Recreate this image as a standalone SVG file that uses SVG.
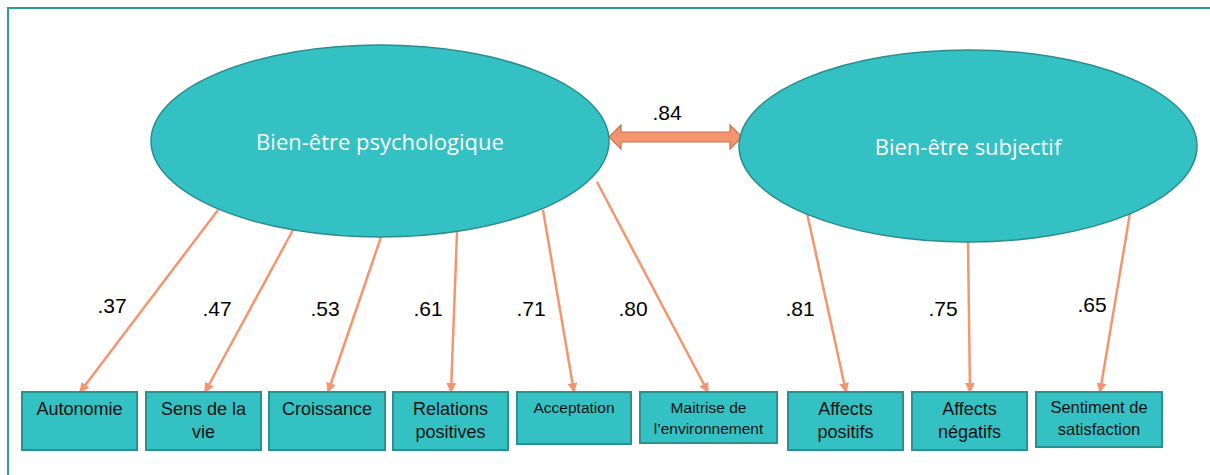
<svg xmlns="http://www.w3.org/2000/svg" width="1210" height="475" viewBox="0 0 1210 475">
<defs>
<marker id="ah" viewBox="0 0 10 10" refX="9" refY="5" markerWidth="4" markerHeight="4" orient="auto" markerUnits="strokeWidth">
<path d="M0,0 L10,5 L0,10 z" fill="#F4956F"/>
</marker>
<style>
.ell{fill:#33C1C4;stroke:#2A8C8E;stroke-width:1.5}
.box{fill:#33C1C4;stroke:#2A9090;stroke-width:2}
.lt{font-family:"Open Sans","Liberation Sans",sans-serif;font-size:22px;fill:#ffffff;text-anchor:middle}
.bt{font-family:"Liberation Sans",sans-serif;font-size:18px;fill:#111111;text-anchor:middle}
.st{font-family:"Liberation Sans",sans-serif;font-size:15.5px;fill:#111111;text-anchor:middle}
.sb{font-family:"Liberation Sans",sans-serif;font-size:16.5px;fill:#111111;text-anchor:middle}
.num{font-family:"Liberation Sans",sans-serif;font-size:21px;fill:#000000;text-anchor:middle}
.ln{stroke:#F4956F;stroke-width:2.5;fill:none;marker-end:url(#ah)}
</style>
</defs>
<rect x="0" y="0" width="1210" height="475" fill="#ffffff"/>
<rect x="8" y="8" width="1230" height="500" fill="none" stroke="#2E9B9B" stroke-width="2"/>

<g id="connectors">
<line class="ln" x1="218" y1="210" x2="80" y2="392"/>
<line class="ln" x1="293" y1="230" x2="205" y2="392"/>
<line class="ln" x1="381" y1="237" x2="328" y2="392"/>
<line class="ln" x1="457" y1="232" x2="451" y2="392"/>
<line class="ln" x1="543" y1="210" x2="574" y2="392"/>
<line class="ln" x1="597" y1="182" x2="708" y2="392"/>
<line class="ln" x1="807" y1="213" x2="846" y2="392"/>
<line class="ln" x1="968" y1="242" x2="970" y2="392"/>
<line class="ln" x1="1130" y1="213" x2="1100" y2="392"/>
<path id="corr" d="M609,137 L621,125 L621,132 L730,132 L730,125 L742,137 L730,149 L730,142 L621,142 L621,149 Z" fill="#F4956F" stroke="#C8734F" stroke-width="1.2"/>
<text class="num" x="667" y="120">.84</text>
<text class="num" x="112" y="313">.37</text>
<text class="num" x="217" y="316">.47</text>
<text class="num" x="325" y="316">.53</text>
<text class="num" x="428" y="316">.61</text>
<text class="num" x="531" y="316">.71</text>
<text class="num" x="633" y="316">.80</text>
<text class="num" x="800" y="316">.81</text>
<text class="num" x="943" y="316">.75</text>
<text class="num" x="1092" y="312">.65</text>
</g>

<g id="bien-etre-psychologique">
<ellipse class="ell" cx="380" cy="141" rx="229" ry="96"/>
<text class="lt" x="380" y="150">Bien-être psychologique</text>
</g>
<g id="bien-etre-subjectif">
<ellipse class="ell" cx="968" cy="146" rx="229" ry="96"/>
<text class="lt" x="968" y="155">Bien-être subjectif</text>
</g>

<g id="autonomie">
<rect class="box" x="22" y="392" width="115" height="58"/>
<text class="bt" x="79.5" y="415">Autonomie</text>
</g>
<g id="sens-de-la-vie">
<rect class="box" x="146" y="392" width="115" height="58"/>
<text class="bt" x="203.5" y="415">Sens de la</text>
<text class="bt" x="203.5" y="438">vie</text>
</g>
<g id="croissance">
<rect class="box" x="269" y="392" width="116" height="58"/>
<text class="bt" x="327" y="415">Croissance</text>
</g>
<g id="relations-positives">
<rect class="box" x="393" y="392" width="115" height="58"/>
<text class="bt" x="450.5" y="415">Relations</text>
<text class="bt" x="450.5" y="438">positives</text>
</g>
<g id="acceptation">
<rect class="box" x="517" y="392" width="114" height="52"/>
<text class="st" x="574" y="413">Acceptation</text>
</g>
<g id="maitrise">
<rect class="box" x="640" y="392" width="137" height="51"/>
<text class="st" x="708.5" y="413">Maitrise de</text>
<text class="st" x="708.5" y="434">l’environnement</text>
</g>
<g id="affects-positifs">
<rect class="box" x="788" y="392" width="115" height="58"/>
<text class="bt" x="845.5" y="415">Affects</text>
<text class="bt" x="845.5" y="438">positifs</text>
</g>
<g id="affects-negatifs">
<rect class="box" x="912" y="392" width="115" height="58"/>
<text class="bt" x="969.5" y="415">Affects</text>
<text class="bt" x="969.5" y="438">négatifs</text>
</g>
<g id="sentiment-de-satisfaction">
<rect class="box" x="1036" y="392" width="126" height="55"/>
<text class="sb" x="1099" y="413">Sentiment de</text>
<text class="sb" x="1099" y="435">satisfaction</text>
</g>
</svg>
